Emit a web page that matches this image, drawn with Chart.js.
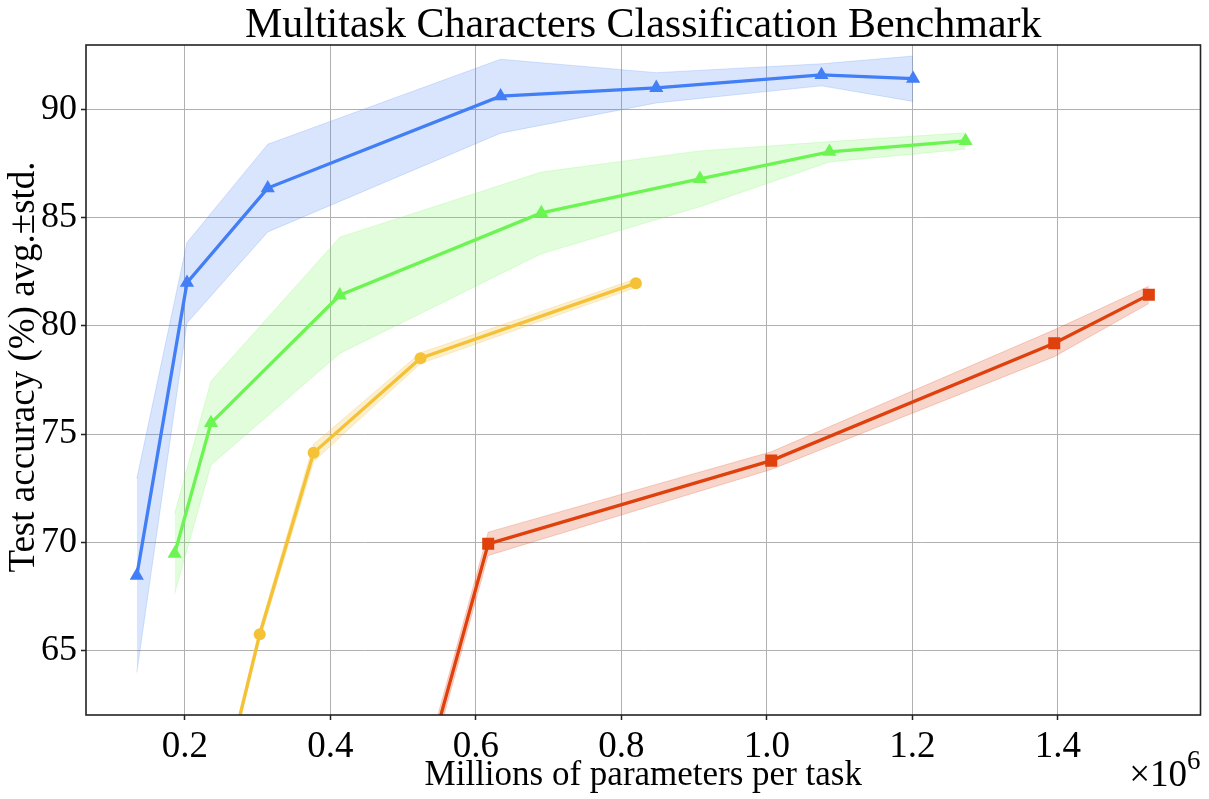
<!DOCTYPE html>
<html>
<head>
<meta charset="utf-8">
<script src="https://cdn.jsdelivr.net/npm/chart.js@4.4.1/dist/chart.umd.min.js"></script>
<style>
  html, body { margin: 0; padding: 0; background: #fff; }
  canvas { display: block; }
</style>
</head>
<body>
<canvas id="benchChart" width="1209" height="799"></canvas>
<script>
// values (x in millions of params, y = mean / std of test accuracy)
const blueX = [0.134, 0.203, 0.314, 0.634, 0.848, 1.075, 1.201];
const blueMean = [68.45, 82.0, 86.38, 90.63, 91.02, 91.62, 91.44];
const blueStd = [4.48, 1.86, 2.03, 1.71, 0.70, 0.51, 1.05];

const greenX = [0.186, 0.236, 0.413, 0.690, 0.908, 1.086, 1.273];
const greenMean = [69.46, 75.51, 81.42, 85.23, 86.81, 88.06, 88.56];
const greenStd = [1.85, 1.94, 2.69, 1.89, 1.29, 0.47, 0.38];

const yellowX = [0.250, 0.303, 0.377, 0.524, 0.820];
const yellowMean = [58.4, 65.74, 74.13, 78.51, 81.98];
const yellowStd = [0.30, 0.25, 0.40, 0.25, 0.20];

const redX = [0.520, 0.617, 1.006, 1.395, 1.525];
const redMean = [58.1, 69.92, 73.77, 79.2, 81.44];
const redStd = [0.50, 0.54, 0.41, 0.62, 0.40];

const xTicks = [0.2, 0.4, 0.6, 0.8, 1.0, 1.2, 1.4];
const yTicks = [65, 70, 75, 80, 85, 90];

const FONT = "'Liberation Serif', 'Times New Roman', serif";

function pts(xs, ys) {
    return xs.map((x, i) => ({ x: x, y: ys[i] }));
}

function band(xs, mean, std, sign) {
    return xs.map((x, i) => ({ x: x, y: mean[i] + sign * std[i] }));
}

// each series -> upper band (filled to next), lower band, line with markers
function series(xs, mean, std, color, fillColor, marker, radius) {
    return [
        {
            data: band(xs, mean, std, 1),
            borderColor: fillColor, borderWidth: 1, backgroundColor: fillColor,
            pointRadius: 0, fill: '+1', order: 10, tension: 0
        },
        {
            data: band(xs, mean, std, -1),
            borderColor: fillColor, borderWidth: 1, backgroundColor: fillColor,
            pointRadius: 0, fill: false, order: 10, tension: 0
        },
        {
            data: pts(xs, mean),
            borderColor: color, borderWidth: 3.3, backgroundColor: color,
            pointStyle: marker, pointRadius: radius, pointBorderWidth: 0,
            pointBackgroundColor: color, fill: false, order: 1, tension: 0
        }
    ];
}

const datasets = [].concat(
    series(blueX, blueMean, blueStd, '#427ef5', 'rgba(66,126,245,0.2)', 'triangle', 8.2),
    series(greenX, greenMean, greenStd, '#6cf552', 'rgba(108,245,82,0.2)', 'triangle', 8.2),
    series(yellowX, yellowMean, yellowStd, '#f5c137', 'rgba(245,193,55,0.25)', 'circle', 6),
    series(redX, redMean, redStd, '#e0400c', 'rgba(224,64,12,0.22)', 'rect', 8.5)
);

// frame, title, axis labels and the x10^6 offset text
const textPlugin = {
    id: 'textPlugin',
    afterDraw(chart) {
        const ctx = chart.ctx;
        const a = chart.chartArea;
        ctx.save();
        ctx.strokeStyle = '#222';
        ctx.lineWidth = 1.6;
        ctx.strokeRect(a.left, a.top, a.right - a.left, a.bottom - a.top);

        ctx.fillStyle = '#000';
        ctx.textBaseline = 'alphabetic';
        ctx.textAlign = 'center';
        ctx.font = '42px ' + FONT;
        ctx.fillText('Multitask Characters Classification Benchmark', (a.left + a.right) / 2, 37);

        ctx.font = '35px ' + FONT;
        ctx.fillText('Millions of parameters per task', (a.left + a.right) / 2, 785);

        ctx.save();
        ctx.translate(34, 367);
        ctx.rotate(-Math.PI / 2);
        ctx.font = '37px ' + FONT;
        ctx.fillText('Test accuracy (%) avg.\u00b1std.', 0, 0);
        ctx.restore();

        ctx.textAlign = 'right';
        ctx.font = '27px ' + FONT;
        const supW = ctx.measureText('6').width;
        ctx.fillText('6', a.right, 769);
        ctx.font = '37px ' + FONT;
        ctx.fillText('\u00d710', a.right - supW, 786);
        ctx.restore();
    }
};

const ctx = document.getElementById('benchChart').getContext('2d');
const benchChart = new Chart(ctx, {
    type: 'line',
    data: { datasets: datasets },
    options: {
        responsive: false,
        animation: false,
        layout: { padding: { top: 45, right: 6, left: 0, bottom: 0 } },
        plugins: { legend: { display: false }, title: { display: false }, tooltip: { enabled: false } },
        scales: {
            x: {
                type: 'linear', min: 0.0642, max: 1.596,
                afterBuildTicks: (scale) => { scale.ticks = xTicks.map(v => ({ value: v })); },
                afterFit: (scale) => { scale.height = 84; },
                ticks: {
                    font: { family: FONT, size: 37 }, color: '#000', padding: 5, maxRotation: 0,
                    callback: (v) => v.toFixed(1)
                },
                grid: { color: '#b0b0b0', lineWidth: 1, tickColor: '#222', tickLength: 5, tickWidth: 1.5 },
                border: { display: false }
            },
            y: {
                min: 62, max: 93,
                afterBuildTicks: (scale) => { scale.ticks = yTicks.map(v => ({ value: v })); },
                afterFit: (scale) => { scale.width = 86; },
                ticks: { font: { family: FONT, size: 36 }, color: '#000', padding: 4 },
                grid: { color: '#b0b0b0', lineWidth: 1, tickColor: '#222', tickLength: 5, tickWidth: 1.5 },
                border: { display: false }
            }
        }
    },
    plugins: [textPlugin]
});
</script>
</body>
</html>
